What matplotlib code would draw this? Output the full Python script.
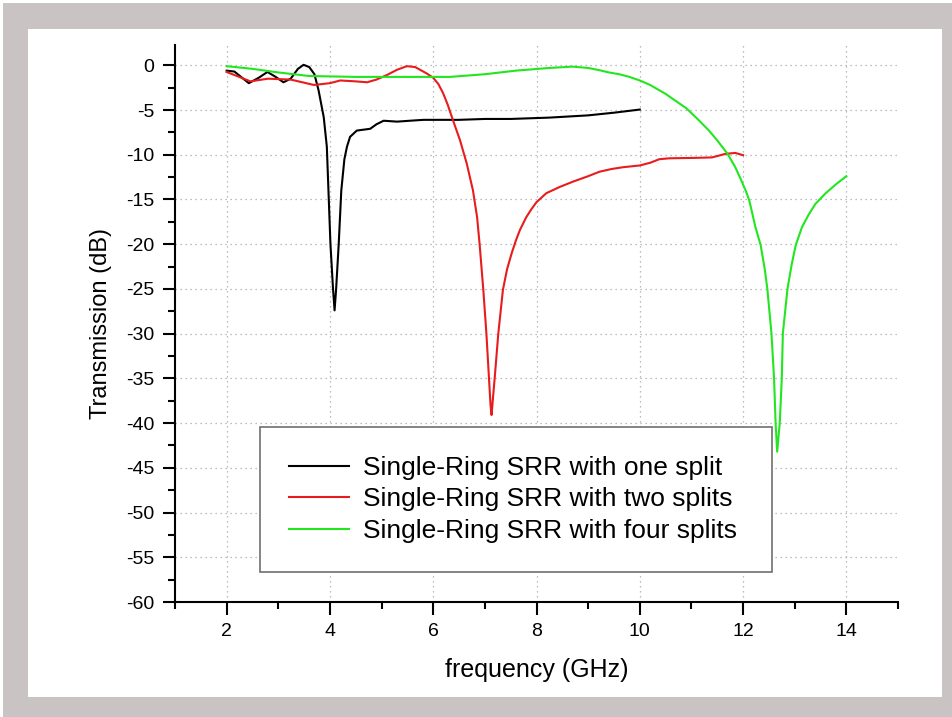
import matplotlib
matplotlib.use('Agg')
import matplotlib.pyplot as plt
from matplotlib.patches import Rectangle
from matplotlib.ticker import MultipleLocator

# data (frequency in GHz, transmission in dB)
black_x = [2.0, 2.15, 2.3, 2.43, 2.62, 2.79, 2.95, 3.1, 3.24, 3.38, 3.49, 3.6, 3.7, 3.78,
           3.88, 3.94, 4.01, 4.06, 4.09, 4.12, 4.17, 4.22, 4.28, 4.33, 4.39, 4.52, 4.65,
           4.78, 4.9, 5.04, 5.3, 5.55, 5.81, 6.5, 7.0, 7.5, 8.25, 9.0, 9.5, 10.0]
black_y = [-0.6, -0.7, -1.4, -2.0, -1.4, -0.75, -1.3, -1.9, -1.5, -0.4, 0.05, -0.2, -1.0,
           -2.8, -5.8, -9.1, -20, -25, -27.4, -25, -20, -14, -10.5, -9.1, -8.0, -7.3,
           -7.2, -7.1, -6.6, -6.2, -6.3, -6.2, -6.1, -6.1, -6.0, -6.0, -5.85, -5.6, -5.3, -4.95]

red_x = [2.0, 2.2, 2.46, 2.8, 3.24, 3.69, 4.0, 4.2, 4.5, 4.72, 4.9, 5.1, 5.3, 5.49, 5.65,
         5.87, 6.0, 6.1, 6.19, 6.28, 6.38, 6.52, 6.65, 6.77, 6.85, 6.9, 6.97, 7.03, 7.08,
         7.11, 7.13, 7.16, 7.19, 7.26, 7.35, 7.43, 7.52, 7.6, 7.68, 7.8, 7.9, 8.0, 8.19,
         8.45, 8.71, 9.0, 9.22, 9.45, 9.67, 10.0, 10.2, 10.38, 10.57, 11.08, 11.4, 11.66,
         11.85, 12.0]
red_y = [-0.75, -1.2, -1.8, -1.5, -1.6, -2.2, -2.0, -1.7, -1.8, -1.9, -1.6, -1.1, -0.5,
         -0.1, -0.2, -0.9, -1.4, -2.1, -3.1, -4.4, -6.1, -8.4, -11, -14, -17, -20.1, -25.1,
         -30, -35, -38, -39.1, -37, -35, -30, -25.1, -22.8, -21, -19.6, -18.4, -17.0, -16.1,
         -15.3, -14.3, -13.6, -13.0, -12.4, -11.9, -11.6, -11.4, -11.2, -10.9, -10.5, -10.4,
         -10.35, -10.3, -9.9, -9.8, -10.05]

green_x = [2.0, 2.5, 3.0, 3.6, 4.5, 5.5, 6.32, 7.0, 7.6, 8.25, 8.7, 9.0, 9.22, 9.4, 9.6,
           9.8, 10.0, 10.2, 10.5, 10.7, 10.9, 11.1, 11.34, 11.5, 11.7, 11.85, 11.96, 12.05,
           12.12, 12.24, 12.34, 12.42, 12.47, 12.55, 12.6, 12.63, 12.66, 12.71, 12.75, 12.77,
           12.86, 12.94, 13.02, 13.14, 13.27, 13.4, 13.6, 13.8, 14.0]
green_y = [-0.1, -0.4, -0.8, -1.2, -1.3, -1.3, -1.3, -1.0, -0.6, -0.3, -0.15, -0.3, -0.55,
           -0.8, -1.0, -1.3, -1.7, -2.2, -3.2, -4.0, -4.8, -5.9, -7.3, -8.4, -9.9, -11.4,
           -12.8, -14.0, -15.1, -18.1, -20.1, -22.8, -25, -30, -35, -40, -43.2, -40, -35,
           -30, -25, -22.3, -20.1, -18.1, -16.7, -15.5, -14.3, -13.3, -12.4]

labels = ['Single-Ring SRR with one split',
          'Single-Ring SRR with two splits',
          'Single-Ring SRR with four splits']

plt.rcParams['font.family'] = ['Liberation Sans', 'DejaVu Sans']
plt.rcParams['axes.unicode_minus'] = False

fig = plt.figure(figsize=(9.52, 7.17), dpi=100, facecolor='white')
# gray frame with white panel
fig.patches.append(Rectangle((3 / 952, 0), 1, 1 - 3 / 717, transform=fig.transFigure,
                             facecolor='#c9c3c3', edgecolor='none', zorder=-2))
fig.patches.append(Rectangle((28 / 952, 1 - 697 / 717), (942 - 28) / 952, (697 - 29) / 717,
                             transform=fig.transFigure, facecolor='white',
                             edgecolor='none', zorder=-1))

ax = fig.add_axes([175 / 952, 1 - 602 / 717, (898 - 175) / 952, (602 - 44.7) / 717])
ax.set_facecolor('none')

ax.plot(black_x, black_y, color='black', lw=1.5, label=labels[0])
ax.plot(red_x, red_y, color='#e81c1c', lw=1.5, label=labels[1])
ax.plot(green_x, green_y, color='#22e620', lw=1.5, label=labels[2])

ax.set_xlim(1, 15)
ax.set_ylim(-60, 2.3)
ax.xaxis.set_major_locator(MultipleLocator(2))
ax.xaxis.set_minor_locator(MultipleLocator(1))
ax.yaxis.set_major_locator(MultipleLocator(5))
ax.yaxis.set_minor_locator(MultipleLocator(2.5))
ax.set_xticks([2, 4, 6, 8, 10, 12, 14])

for s in ['top', 'right']:
    ax.spines[s].set_visible(False)
for s in ['left', 'bottom']:
    ax.spines[s].set_linewidth(1.5)

ax.tick_params(which='major', direction='out', length=9, width=1.5, labelsize=14)
ax.tick_params(which='minor', direction='out', length=5, width=1.5)
ax.tick_params(axis='y', pad=6)
ax.tick_params(axis='x', pad=6)

ax.grid(True, which='major', color='#a8a8a8', linestyle=(0, (1, 3)), lw=0.9)

ax.set_xlabel('frequency (GHz)', fontsize=18, labelpad=13)
ax.set_ylabel('Transmission (dB)', fontsize=17, labelpad=10)

leg = ax.legend(loc='center', mode='expand', bbox_to_anchor=(2.64, -56.6, 9.92, 16.15),
                bbox_transform=ax.transData, fontsize=19, frameon=True, fancybox=False,
                borderpad=1.1, labelspacing=0.28, handlelength=2.3, handletextpad=0.5,
                borderaxespad=0)
leg.get_frame().set_edgecolor('#707070')
leg.get_frame().set_linewidth(1.2)
leg.get_frame().set_alpha(1)

plt.savefig('out.png', dpi=100, facecolor=fig.get_facecolor())
